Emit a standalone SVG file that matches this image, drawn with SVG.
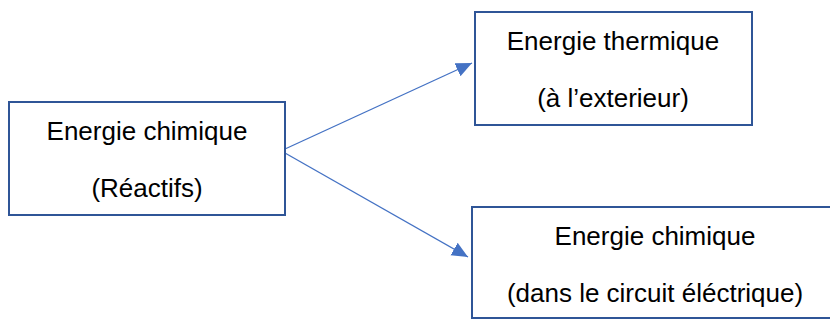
<svg xmlns="http://www.w3.org/2000/svg" width="830" height="320" viewBox="0 0 830 320">
<style>
.box{fill:#fff;stroke:#2F5597;stroke-width:2}
.t{font-family:"Liberation Sans",Arial,sans-serif;font-size:26px;fill:#000;text-anchor:middle}
.c{stroke:#4472C4;stroke-width:1.3;fill:none}
</style>
<defs>
<marker id="ah" viewBox="0 0 10 10" refX="10" refY="5" markerWidth="16" markerHeight="16" markerUnits="userSpaceOnUse" orient="auto">
<path d="M0,0.5 L10,5 L0,9.5 Z" fill="#4472C4"/>
</marker>
</defs>
<rect width="830" height="320" fill="#fff"/>
<g id="connectors">
<line class="c" x1="285" y1="149" x2="472" y2="63" marker-end="url(#ah)"/>
<line class="c" x1="285" y1="153" x2="468" y2="257" marker-end="url(#ah)"/>
</g>
<g id="n1">
<rect class="box" x="9" y="102" width="276" height="113"/>
<text class="t" x="147" y="140">Energie chimique</text>
<text class="t" x="147" y="197">(Réactifs)</text>
</g>
<g id="n2">
<rect class="box" x="475" y="12" width="277" height="113"/>
<text class="t" x="613" y="50">Energie thermique</text>
<text class="t" x="613" y="107">(à l’exterieur)</text>
</g>
<g id="n3">
<rect class="box" x="472" y="207" width="365" height="111"/>
<text class="t" x="655" y="245">Energie chimique</text>
<text class="t" x="655" y="302">(dans le circuit éléctrique)</text>
</g>
</svg>
